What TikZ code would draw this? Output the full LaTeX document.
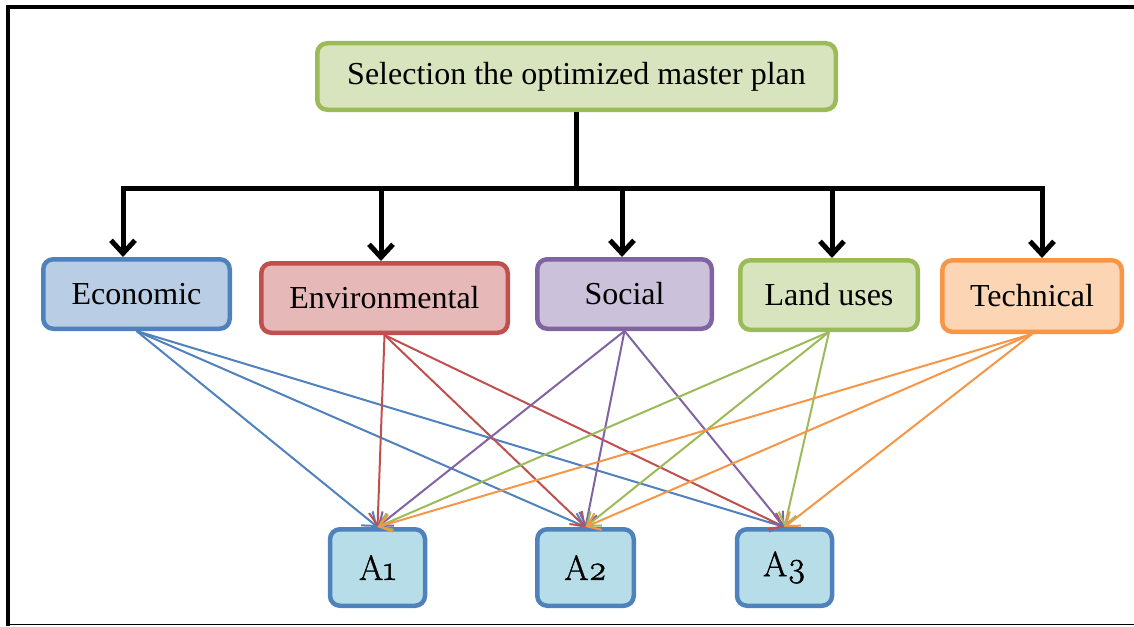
\documentclass[tikz,border=0pt]{standalone}
\usepackage{fontspec}
\setmainfont{Liberation Serif}
\newfontfamily\afont{Latin Modern Roman}[Numbers=OldStyle, FakeBold=1.2]
\usetikzlibrary{arrows.meta}
\definecolor{cblue}{HTML}{4F81BD}
\definecolor{cred}{HTML}{C0504D}
\definecolor{cpurple}{HTML}{8064A2}
\definecolor{cgreen}{HTML}{9BBB59}
\definecolor{corange}{HTML}{F79646}
\definecolor{fblue}{HTML}{B9CDE5}
\definecolor{fred}{HTML}{E6B9B8}
\definecolor{fpurple}{HTML}{CCC1DA}
\definecolor{fgreen}{HTML}{D7E4BD}
\definecolor{forange}{HTML}{FCD5B5}
\definecolor{faqua}{HTML}{B7DEE8}
\tikzset{
  box/.style={rectangle, rounded corners=10pt, line width=4.5pt, inner sep=0pt,
    font=\fontsize{32}{37}\selectfont, align=center},
  altbox/.style={box, draw=cblue, fill=faqua, minimum width=95pt, minimum height=76.5pt,
    font=\fontsize{35}{40}\afont},
  bigarrow/.style={line width=5pt, -{Straight Barb[length=13pt,width=24pt]}},
  link/.style={line width=2pt, -{Straight Barb[length=12pt,width=18pt]}},
}
\begin{document}
\begin{tikzpicture}[x=1pt,y=-1pt]
\useasboundingbox (0,0) rectangle (1134,626);
% frame
\coordinate (fTL) at (8,7);
\coordinate (fBL) at (8,626);
\coordinate (fTR) at (1134,7);
\coordinate (fB1) at (6,624.5);
\coordinate (fB2) at (1134,624.5);
\draw[line width=4pt] (fBL) -- (fTL) -- (fTR);
\draw[line width=1.5pt] (fB1) -- (fB2);
% nodes
\node[box, draw=cgreen, fill=fgreen, minimum width=518.5pt, minimum height=66.5pt] (top) at (576.5,76.5) {Selection the optimized master plan};
\node[box, draw=cblue, fill=fblue, minimum width=186.5pt, minimum height=69.5pt] (econ) at (136.5,294) {Economic};
\node[box, draw=cred, fill=fred, minimum width=246.5pt, minimum height=69.5pt] (env) at (384.5,298) {Environmental};
\node[box, draw=cpurple, fill=fpurple, minimum width=174.5pt, minimum height=69.5pt] (soc) at (624.5,294) {Social};
\node[box, draw=cgreen, fill=fgreen, minimum width=177.5pt, minimum height=69.5pt] (land) at (829,295) {Land uses};
\node[box, draw=corange, fill=forange, minimum width=179.5pt, minimum height=71.5pt] (tech) at (1032,296) {Technical};
\node[altbox] (a1) at (377.5,567.5) {A1};
\node[altbox, minimum width=96.5pt] (a2) at (585.5,567.5) {A2};
\node[altbox] (a3) at (784.5,567.5) {A3};
% tree
\coordinate (b1) at (123,188);
\coordinate (b2) at (381,188);
\coordinate (b3) at (622,188);
\coordinate (b4) at (832,188);
\coordinate (b5) at (1042,188);
\draw[line width=5pt] (top.south) -- (top.south |- b1);
\draw[line width=5pt, line cap=rect] (b1) -- (b5);
\draw[bigarrow] (b1) -- (b1 |- econ.north);
\draw[bigarrow] (b2) -- (b2 |- env.north);
\draw[bigarrow] (b3) -- (b3 |- soc.north);
\draw[bigarrow] (b4) -- (b4 |- land.north);
\draw[bigarrow] (b5) -- (b5 |- tech.north);
% links
\foreach \src/\col in {econ/cblue, env/cred, soc/cpurple, land/cgreen, tech/corange}{
  \foreach \dst in {a1,a2,a3}{
    \draw[link, draw=\col] (\src.south) -- (\dst.north);
  }
}
\end{tikzpicture}
\end{document}
